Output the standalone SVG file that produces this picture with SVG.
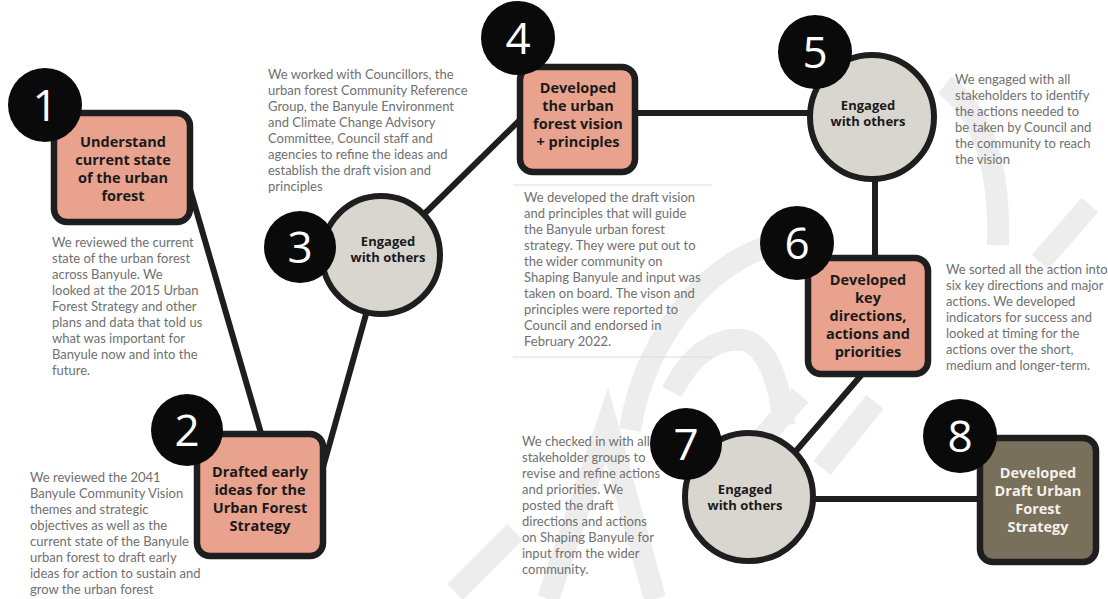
<svg xmlns="http://www.w3.org/2000/svg" width="1108" height="599" viewBox="0 0 1108 599">
<style>
.wm{fill:none;stroke:#ededed;stroke-width:22;stroke-linecap:butt}
.con{stroke:#1e1e1e;stroke-width:6;fill:none}
.box{fill:#e8a28e;stroke:#1e1e1e;stroke-width:6.5}
.box8{fill:#79705c;stroke:#1e1e1e;stroke-width:6.5}
.circ{fill:#d9d6cf;stroke:#1e1e1e;stroke-width:6}
.badge{fill:#0a0a0a}
.num{font-family:"Open Sans","Noto Sans",sans-serif;font-weight:500;font-size:44px;fill:#ffffff;text-anchor:middle}
.lbl{font-family:"Open Sans","Noto Sans",sans-serif;font-weight:700;font-size:14.5px;fill:#1a1a1a;text-anchor:middle}
.lblw{font-family:"Open Sans","Noto Sans",sans-serif;font-weight:700;font-size:14.5px;fill:#f4f1ea;text-anchor:middle}
.clbl{font-family:"Open Sans","Noto Sans",sans-serif;font-weight:700;font-size:13px;fill:#1a1a1a;text-anchor:middle}
.desc{font-family:Lato,"Open Sans",sans-serif;font-size:13px;fill:#707070}
.rule{stroke:#dddddd;stroke-width:1}
</style>
<rect width="1108" height="599" fill="#ffffff"/>
<g id="watermark">
<path class="wm" d="M 455 592 L 515 532"/>
<path class="wm" d="M 548 599 L 607 425 L 655 599"/>
<path class="wm" d="M 630 430 C 645 330 720 245 800 240"/>
<path class="wm" d="M 672 392 C 690 355 715 338 742 340 C 768 344 780 385 784 425"/>
<path class="wm" d="M 735 470 L 800 395"/>
<path class="wm" d="M 822 468 L 875 402"/>
<path class="wm" d="M 945 85 C 985 115 1000 170 998 245"/>
<path class="wm" d="M 1040 262 L 1090 205"/>
</g>
<g id="connectors">
<line class="con" x1="183" y1="165" x2="263" y2="440"/>
<line class="con" x1="313" y1="503" x2="370" y2="300"/>
<line class="con" x1="410" y1="228" x2="530" y2="110"/>
<line class="con" x1="630" y1="113" x2="815" y2="113"/>
<line class="con" x1="875" y1="170" x2="875" y2="262"/>
<line class="con" x1="870" y1="365" x2="790" y2="458"/>
<line class="con" x1="800" y1="499" x2="985" y2="499"/>
</g>
<g id="descriptions">
<text class="desc" x="52"><tspan x="52" y="247">We reviewed the current</tspan><tspan x="52" y="263">state of the urban forest</tspan><tspan x="52" y="279">across Banyule. We</tspan><tspan x="52" y="295">looked at the 2015 Urban</tspan><tspan x="52" y="311">Forest Strategy and other</tspan><tspan x="52" y="327">plans and data that told us</tspan><tspan x="52" y="343">what was important for</tspan><tspan x="52" y="359">Banyule now and into the</tspan><tspan x="52" y="375">future.</tspan></text>
<text class="desc" x="30"><tspan x="30" y="482">We reviewed the 2041</tspan><tspan x="30" y="498">Banyule Community Vision</tspan><tspan x="30" y="514">themes and strategic</tspan><tspan x="30" y="530">objectives as well as the</tspan><tspan x="30" y="546">current state of the Banyule</tspan><tspan x="30" y="562">urban forest to draft early</tspan><tspan x="30" y="578">ideas for action to sustain and</tspan><tspan x="30" y="594">grow the urban forest</tspan></text>
<text class="desc" x="268"><tspan x="268" y="79">We worked with Councillors, the</tspan><tspan x="268" y="95">urban forest Community Reference</tspan><tspan x="268" y="111">Group, the Banyule Environment</tspan><tspan x="268" y="127">and Climate Change Advisory</tspan><tspan x="268" y="143">Committee, Council staff and</tspan><tspan x="268" y="159">agencies to refine the ideas  and</tspan><tspan x="268" y="175">establish the draft vision and</tspan><tspan x="268" y="191">principles</tspan></text>
<line class="rule" x1="513" y1="185" x2="712" y2="185"/>
<line class="rule" x1="513" y1="357" x2="712" y2="357"/>
<text class="desc" x="524"><tspan x="524" y="202">We developed the draft vision</tspan><tspan x="524" y="218">and principles that will guide</tspan><tspan x="524" y="234">the Banyule urban forest</tspan><tspan x="524" y="250">strategy. They were put out to</tspan><tspan x="524" y="266">the wider community on</tspan><tspan x="524" y="282">Shaping Banyule and input was</tspan><tspan x="524" y="298">taken on board. The vison and</tspan><tspan x="524" y="314">principles were reported to</tspan><tspan x="524" y="330">Council and endorsed in</tspan><tspan x="524" y="346">February 2022.</tspan></text>
<text class="desc" x="955"><tspan x="955" y="84">We engaged with all</tspan><tspan x="955" y="100">stakeholders to identify</tspan><tspan x="955" y="116">the actions needed to</tspan><tspan x="955" y="132">be taken by Council and</tspan><tspan x="955" y="148">the community to reach</tspan><tspan x="955" y="164">the vision</tspan></text>
<text class="desc" x="946"><tspan x="946" y="274">We sorted all the action into</tspan><tspan x="946" y="290">six key directions and major</tspan><tspan x="946" y="306">actions. We developed</tspan><tspan x="946" y="322">indicators for success and</tspan><tspan x="946" y="338">looked at timing for the</tspan><tspan x="946" y="354">actions over the short,</tspan><tspan x="946" y="370">medium and longer-term.</tspan></text>
<text class="desc" x="522"><tspan x="522" y="446">We checked in with all</tspan><tspan x="522" y="462">stakeholder groups to</tspan><tspan x="522" y="478">revise and refine actions</tspan><tspan x="522" y="494">and priorities. We</tspan><tspan x="522" y="510">posted the draft</tspan><tspan x="522" y="526">directions and actions</tspan><tspan x="522" y="542">on Shaping Banyule for</tspan><tspan x="522" y="558">input from the wider</tspan><tspan x="522" y="574">community.</tspan></text>
</g>
<g id="node1">
<rect class="box" x="54" y="113" width="136" height="109" rx="13"/>
<circle class="badge" cx="45" cy="105" r="37"/>
<text class="num" x="45" y="121">1</text>
<text class="lbl" x="123"><tspan x="123" y="147">Understand</tspan><tspan x="123" y="165">current state</tspan><tspan x="123" y="183">of the urban</tspan><tspan x="123" y="201">forest</tspan></text>
</g>
<g id="node2">
<rect class="box" x="197" y="434" width="126" height="122" rx="13"/>
<circle class="badge" cx="187" cy="430" r="36"/>
<text class="num" x="187" y="446">2</text>
<text class="lbl" x="260"><tspan x="260" y="477">Drafted early</tspan><tspan x="260" y="495">ideas for the</tspan><tspan x="260" y="513">Urban Forest</tspan><tspan x="260" y="531">Strategy</tspan></text>
</g>
<g id="node3">
<circle class="circ" cx="381" cy="255" r="59"/>
<circle class="badge" cx="300" cy="247" r="36"/>
<text class="num" x="300" y="263">3</text>
<text class="clbl" x="388"><tspan x="388" y="246">Engaged</tspan><tspan x="388" y="262">with others</tspan></text>
</g>
<g id="node4">
<rect class="box" x="520" y="67" width="115" height="105" rx="13"/>
<circle class="badge" cx="518" cy="38" r="37"/>
<text class="num" x="518" y="54">4</text>
<text class="lbl" x="578"><tspan x="578" y="93">Developed</tspan><tspan x="578" y="111">the urban</tspan><tspan x="578" y="129">forest vision</tspan><tspan x="578" y="147">+ principles</tspan></text>
</g>
<g id="node5">
<circle class="circ" cx="872" cy="117" r="62"/>
<circle class="badge" cx="815" cy="52" r="37"/>
<text class="num" x="815" y="68">5</text>
<text class="clbl" x="868"><tspan x="868" y="110">Engaged</tspan><tspan x="868" y="126">with others</tspan></text>
</g>
<g id="node6">
<rect class="box" x="808" y="258" width="120" height="116" rx="13"/>
<circle class="badge" cx="797" cy="243" r="37"/>
<text class="num" x="797" y="259">6</text>
<text class="lbl" x="868"><tspan x="868" y="285">Developed</tspan><tspan x="868" y="303">key</tspan><tspan x="868" y="321">directions,</tspan><tspan x="868" y="339">actions and</tspan><tspan x="868" y="357">priorities</tspan></text>
</g>
<g id="node7">
<circle class="circ" cx="749" cy="497" r="64"/>
<circle class="badge" cx="686" cy="444" r="36"/>
<text class="num" x="686" y="460">7</text>
<text class="clbl" x="745"><tspan x="745" y="494">Engaged</tspan><tspan x="745" y="510">with others</tspan></text>
</g>
<g id="node8">
<rect class="box8" x="980" y="438" width="116" height="124" rx="13"/>
<circle class="badge" cx="960" cy="436" r="37"/>
<text class="num" x="960" y="452">8</text>
<text class="lblw" x="1038"><tspan x="1038" y="478">Developed</tspan><tspan x="1038" y="496">Draft Urban</tspan><tspan x="1038" y="514">Forest</tspan><tspan x="1038" y="532">Strategy</tspan></text>
</g>
</svg>
